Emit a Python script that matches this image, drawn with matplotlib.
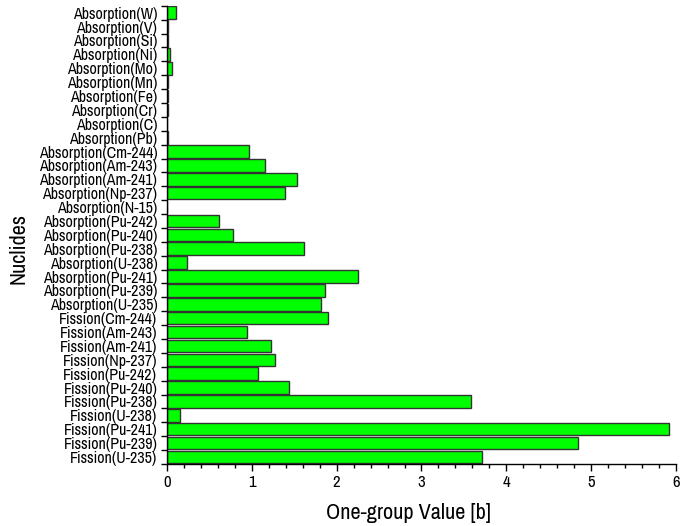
import matplotlib
matplotlib.use("Agg")
import matplotlib.pyplot as plt
from matplotlib.ticker import MultipleLocator, FixedLocator

plt.rcParams['font.family'] = ['Archivo Narrow', 'Liberation Sans', 'DejaVu Sans']

# bottom to top
nuclides = ["Fission(U-235)", "Fission(Pu-239)", "Fission(Pu-241)", "Fission(U-238)",
            "Fission(Pu-238)", "Fission(Pu-240)", "Fission(Pu-242)", "Fission(Np-237)",
            "Fission(Am-241)", "Fission(Am-243)", "Fission(Cm-244)",
            "Absorption(U-235)", "Absorption(Pu-239)", "Absorption(Pu-241)", "Absorption(U-238)",
            "Absorption(Pu-238)", "Absorption(Pu-240)", "Absorption(Pu-242)", "Absorption(N-15)",
            "Absorption(Np-237)", "Absorption(Am-241)", "Absorption(Am-243)", "Absorption(Cm-244)",
            "Absorption(Pb)", "Absorption(C)", "Absorption(Cr)", "Absorption(Fe)",
            "Absorption(Mn)", "Absorption(Mo)", "Absorption(Ni)", "Absorption(Si)",
            "Absorption(V)", "Absorption(W)"]
fission_vals = [3.71, 4.85, 5.92, 0.15, 3.58, 1.44, 1.075, 1.27, 1.22, 0.944, 1.90]
absorption_vals = [1.81, 1.86, 2.25, 0.24, 1.62, 0.78, 0.61, 0.0, 1.39, 1.53, 1.16, 0.97,
                   0.005, 0.002, 0.005, 0.005, 0.01, 0.055, 0.04, 0.005, 0.01, 0.10]
values = fission_vals + absorption_vals

fig = plt.figure(figsize=(6.82, 5.26), dpi=100)
ax = fig.add_axes([0.245, 0.118, 0.746, 0.871])

pos = list(range(len(nuclides)))
ax.barh(pos, values, height=0.9, color="#00ff00", edgecolor="#333333", linewidth=1.0)

ax.set_xlim(0, 6)
ax.set_ylim(-0.5, len(nuclides) - 0.5)
ax.xaxis.set_major_locator(MultipleLocator(1))
ax.xaxis.set_minor_locator(MultipleLocator(0.2))

ax.set_yticks(pos)
ax.set_yticklabels(nuclides)
ax.yaxis.set_minor_locator(FixedLocator([p - 0.5 for p in pos] + [len(pos) - 0.5]))
ax.tick_params(axis='y', which='major', length=0, pad=7, labelsize=11.5)
ax.tick_params(axis='y', which='minor', length=4, width=1)
ax.tick_params(axis='x', which='major', length=5, width=1, labelsize=12, pad=3)
ax.tick_params(axis='x', which='minor', length=3, width=1)

for s in ["top", "right"]:
    ax.spines[s].set_visible(False)
for s in ["left", "bottom"]:
    ax.spines[s].set_linewidth(1.0)

ax.set_xlabel("One-group Value [b]", fontsize=16)
ax.set_ylabel("Nuclides", fontsize=16)
ax.yaxis.set_label_coords(-0.272, 0.47)
ax.xaxis.set_label_coords(0.475, -0.085)

fig.savefig("out.png", dpi=100)
